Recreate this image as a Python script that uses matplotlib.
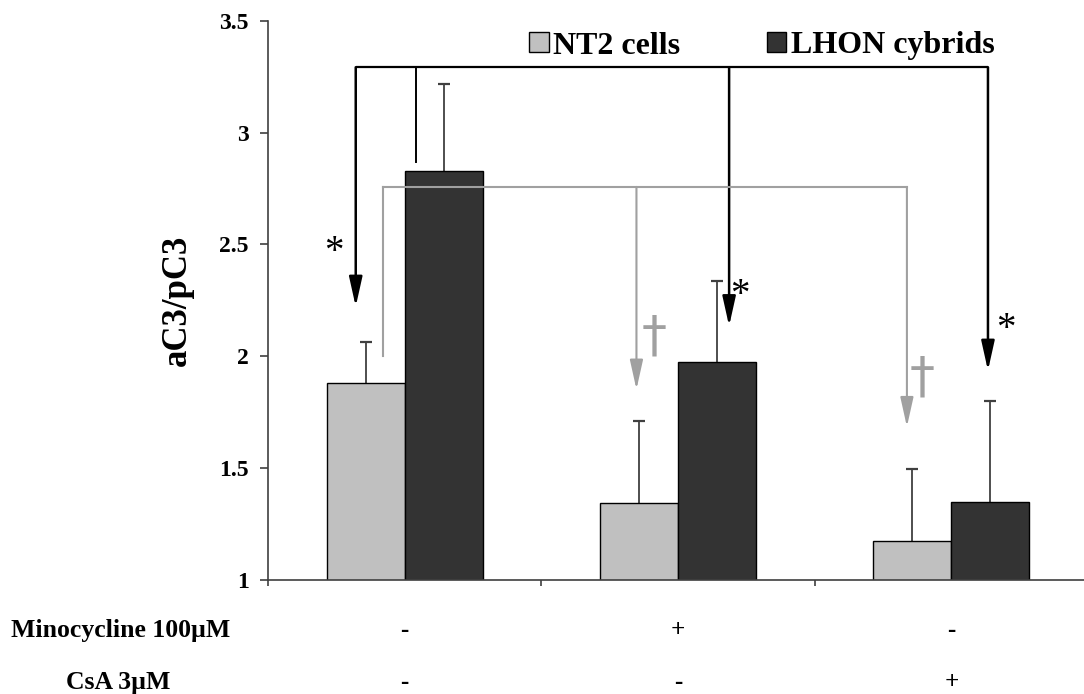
import numpy as np
import matplotlib
matplotlib.use("Agg")
import matplotlib.pyplot as plt
from matplotlib.patches import Patch

plt.rcParams['font.family'] = ['Liberation Serif', 'DejaVu Serif']

# data
groups = ['ctrl', 'mino', 'csa']
nt2 = np.array([1.88, 1.345, 1.175])
nt2_err = np.array([0.185, 0.365, 0.32])
lhon = np.array([2.83, 1.975, 1.35])
lhon_err = np.array([0.385, 0.36, 0.45])
minocycline = ['-', '+', '-']
csa = ['-', '-', '+']

# significance brackets (y level of bracket, arrow tips)
black_level = 3.292
black_tips = [2.222, 2.135, 1.936]
gray_level = 2.757
gray_tips = [1.852, 1.685]

GRAY_BAR = '#c0c0c0'
DARK_BAR = '#333333'
LINE_GRAY = '#a0a0a0'

fig = plt.figure(figsize=(10.84, 6.94), dpi=100)
ax = fig.add_axes([268 / 1084, 1 - 580 / 694, 820 / 1084, 559.3 / 694])

x = np.arange(len(groups))
w = 0.285
ax.bar(x - w / 2, nt2, w, color=GRAY_BAR, edgecolor='black', linewidth=1, zorder=2)
ax.bar(x + w / 2, lhon, w, color=DARK_BAR, edgecolor='black', linewidth=1, zorder=2)

# upper error bars only
for xs, vals, errs in [(x - w / 2, nt2, nt2_err), (x + w / 2, lhon, lhon_err)]:
    ax.vlines(xs, vals, vals + errs, color='#404040', lw=1.3, zorder=1)
    ax.plot(xs, vals + errs, ls='none', marker='_', ms=9, mew=1.6, color='#404040', zorder=1)

ax.set_xlim(-0.5, 2.5)
ax.set_ylim(1, 3.5)
ax.set_yticks([1, 1.5, 2, 2.5, 3, 3.5])
ax.set_yticklabels(['1', '1.5', '2', '2.5', '3', '3.5'])
ax.set_xticks([-0.5, 0.5, 1.5, 2.5])
ax.set_xticklabels([])
for s in ['top', 'right']:
    ax.spines[s].set_visible(False)
for s in ['left', 'bottom']:
    ax.spines[s].set_color('#404040')
    ax.spines[s].set_linewidth(1.2)
ax.tick_params(axis='y', length=6, width=1.2, color='#404040', labelsize=17, pad=8)
ax.tick_params(axis='x', length=4.5, width=1.2, color='#404040')
for t in ax.get_yticklabels():
    t.set_fontweight('bold')
ax.set_ylabel('aC3/pC3', fontsize=25, fontweight='bold', labelpad=18)

# black bracket: LHON ctrl vs others
bx = [x[0] - 0.179, x[1] + 0.187, x[2] + 0.134]
ax.plot([bx[0], bx[2]], [black_level, black_level], color='black', lw=1.6, zorder=5,
        solid_capstyle='butt')
ax.plot([x[0] + 0.041, x[0] + 0.041], [black_level, lhon[0] + 0.04], color='black', lw=1.4, zorder=5)
for xi, tip in zip(bx, black_tips):
    ax.annotate('', xy=(xi, tip), xytext=(xi, black_level),
                arrowprops=dict(arrowstyle='-|>,head_length=1.8,head_width=0.4', color='black',
                                lw=1.8, shrinkA=0, shrinkB=0, mutation_scale=10), zorder=5)

# gray bracket: NT2 ctrl vs others
gx = [x[0] - 0.0795, x[1] - 0.152, x[2] - 0.1625]
ax.plot([gx[0], gx[2]], [gray_level, gray_level], color=LINE_GRAY, lw=1.5, zorder=5)
ax.plot([gx[0], gx[0]], [gray_level, nt2[0] + 0.123], color=LINE_GRAY, lw=1.5, zorder=5)
for xi, tip in zip(gx[1:], gray_tips):
    ax.annotate('', xy=(xi, tip), xytext=(xi, gray_level),
                arrowprops=dict(arrowstyle='-|>,head_length=1.8,head_width=0.4', color=LINE_GRAY,
                                lw=1.5, shrinkA=0, shrinkB=0, mutation_scale=10), zorder=5)

# stars and daggers
for xi, yi in [(x[0] - 0.258, 2.466), (x[1] + 0.226, 2.27), (x[2] + 0.198, 2.118)]:
    ax.text(xi, yi, '*', fontsize=28, ha='center', va='center', zorder=6)
for xi, yi in [(x[1] - 0.089, 2.09), (x[2] - 0.108, 1.907)]:
    ax.text(xi, yi, '\u2020', fontsize=36, family='DejaVu Sans', ha='center', va='center',
            color=LINE_GRAY, zorder=6)

# legend
handles = [Patch(facecolor=GRAY_BAR, edgecolor='black', label='NT2 cells'),
           Patch(facecolor=DARK_BAR, edgecolor='black', label='LHON cybrids')]
fig.legend(handles=handles, loc='center', bbox_to_anchor=(762 / 1084, 1 - 46 / 694), ncol=2,
           frameon=False, prop=dict(size=23, weight='bold'), handlelength=0.6, handleheight=0.6,
           handletextpad=0.15, columnspacing=2.7)

# treatment rows under the axis
trans = ax.get_xaxis_transform()
for xi, m, c in zip(x, minocycline, csa):
    ax.text(xi, -(630 - 580) / 559.3, m, fontsize=18, fontweight='bold', ha='center', va='center',
            transform=trans)
    ax.text(xi, -(683 - 580) / 559.3, c, fontsize=18, fontweight='bold', ha='center', va='center',
            transform=trans)
fig.text(121 / 1084, 1 - 630 / 694, 'Minocycline 100\u00b5M', fontsize=18.5, fontweight='bold',
         ha='center', va='center')
fig.text(118 / 1084, 1 - 683 / 694, 'CsA 3\u00b5M', fontsize=18.5, fontweight='bold',
         ha='center', va='center')

fig.savefig('out.png', dpi=100)
